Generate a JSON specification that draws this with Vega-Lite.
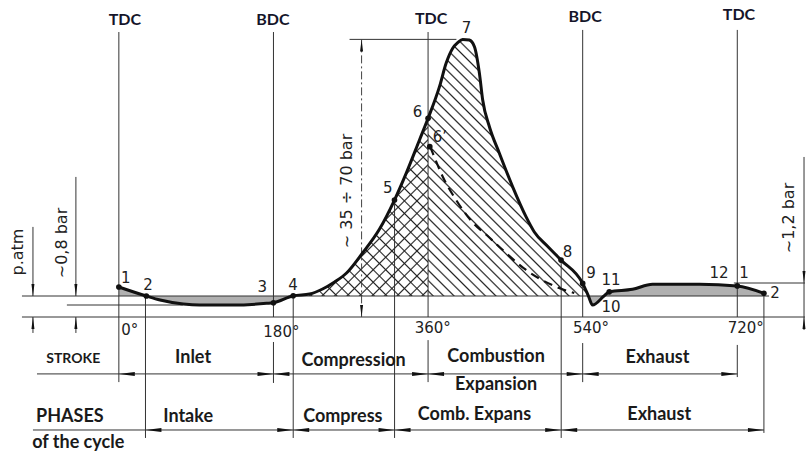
{
"$schema": "https://vega.github.io/schema/vega-lite/v6.json",
"width": 806, "height": 455,
"autosize": {"type": "fit", "contains": "padding"},
"padding": 0,
"background": "white",
"config": {"view": {"stroke": null}},
"datasets": {
"curve": [
{"deg":0,"p":1.43},{"deg":32,"p":1.0},{"deg":48,"p":0.81},{"deg":75,"p":0.62},{"deg":94,"p":0.57},{"deg":133,"p":0.57},{"deg":172,"p":0.65},{"deg":180,"p":0.68},{"deg":203,"p":1.01},{"deg":222.1,"p":1.095},{"deg":237.2,"p":1.333},{"deg":251.2,"p":1.667},{"deg":265.1,"p":2.095},{"deg":283.7,"p":3.048},{"deg":303.5,"p":4.19},{"deg":320.9,"p":5.57},{"deg":334.5,"p":6.84},{"deg":350,"p":8.43},{"deg":360,"p":9.46},{"deg":373.3,"p":10.97},{"deg":381,"p":12.08},{"deg":388.7,"p":12.8},{"deg":394.5,"p":13.06},{"deg":400.3,"p":13.22},{"deg":408.1,"p":13.19},{"deg":414,"p":12.87},{"deg":419.8,"p":11.6},{"deg":423.6,"p":10.33},{"deg":431.4,"p":9.06},{"deg":443,"p":7.8},{"deg":458.5,"p":6.2},{"deg":474,"p":4.78},{"deg":483.7,"p":4.05},{"deg":498.8,"p":3.38},{"deg":514.8,"p":2.71},{"deg":540,"p":1.6},{"deg":546.7,"p":1.0},{"deg":551.5,"p":0.57},{"deg":564.8,"p":1.0},{"deg":571,"p":1.2},{"deg":598,"p":1.32},{"deg":621.3,"p":1.56},{"deg":676,"p":1.56},{"deg":720,"p":1.48},{"deg":751,"p":1.13}
],
"dashed": [
{"deg":362.4,"p":8.11},{"deg":365.5,"p":7.8},{"deg":377.1,"p":6.68},{"deg":392.7,"p":5.57},{"deg":412,"p":4.5},{"deg":431,"p":3.8},{"deg":447,"p":3.19},{"deg":474.1,"p":2.24},{"deg":508.9,"p":1.44},{"deg":530.2,"p":1.14}
],
"segs": [
{"g":"g","deg":0,"p":13.57,"deg2":0,"p2":-3.1},
{"g":"g","deg":180,"p":13.57,"deg2":180,"p2":0},
{"g":"g","deg":180,"p":-1.19,"deg2":180,"p2":-3.14},
{"g":"g","deg":360,"p":13.57,"deg2":360,"p2":0},
{"g":"g","deg":360,"p":-1.1,"deg2":360,"p2":-3.1},
{"g":"g","deg":540,"p":13.67,"deg2":540,"p2":0},
{"g":"g","deg":540,"p":-1.24,"deg2":540,"p2":-3.1},
{"g":"g","deg":720,"p":13.67,"deg2":720,"p2":0},
{"g":"g","deg":720,"p":-1.33,"deg2":720,"p2":-2.86},
{"g":"g","deg":31,"p":1.0,"deg2":31,"p2":-5.76},
{"g":"g","deg":203,"p":1.01,"deg2":203,"p2":-5.76},
{"g":"g","deg":321,"p":5.57,"deg2":321,"p2":-5.76},
{"g":"g","deg":515,"p":2.71,"deg2":515,"p2":-5.76},
{"g":"g","deg":751,"p":1.13,"deg2":751,"p2":-5.52},
{"g":"g","deg":-112.8,"p":1,"deg2":757,"p2":1},
{"g":"g","deg":-112.8,"p":0,"deg2":798.8,"p2":0},
{"g":"g","deg":-60.5,"p":0.571,"deg2":74.4,"p2":0.571},
{"g":"g","deg":716,"p":1.619,"deg2":798.8,"p2":1.619},
{"g":"g","deg":-95.3,"p":-2.71,"deg2":720,"p2":-2.71},
{"g":"g","deg":-100,"p":-5.38,"deg2":751,"p2":-5.38},
{"g":"g","deg":268.6,"p":13.22,"deg2":393,"p2":13.22},
{"g":"g","deg":-100,"p":4.29,"deg2":-100,"p2":1},
{"g":"g","deg":-100,"p":0,"deg2":-100,"p2":-0.76},
{"g":"g","deg":-50,"p":6.67,"deg2":-50,"p2":1},
{"g":"g","deg":-50,"p":0,"deg2":-50,"p2":-0.76},
{"g":"g","deg":797.7,"p":7.62,"deg2":797.7,"p2":-0.62},
{"g":"d","deg":282.6,"p":13.22,"deg2":282.6,"p2":0}
],
"pts": [
{"deg":0,"p":1.43},{"deg":32,"p":1.0},{"deg":180,"p":0.68},{"deg":203,"p":1.01},{"deg":320.9,"p":5.57},{"deg":360,"p":9.46},{"deg":362,"p":8.11},{"deg":514.8,"p":2.71},{"deg":540,"p":1.6},{"deg":571,"p":1.2},{"deg":720,"p":1.48},{"deg":751,"p":1.13}
],
"arrows": [
{"g":"h","dir":"left","deg":9.3,"p":-2.71},{"g":"h","dir":"right","deg":170.7,"p":-2.71},{"g":"h","dir":"left","deg":189.3,"p":-2.71},{"g":"h","dir":"right","deg":350.7,"p":-2.71},{"g":"h","dir":"left","deg":369.3,"p":-2.71},{"g":"h","dir":"right","deg":530.7,"p":-2.71},{"g":"h","dir":"left","deg":549.3,"p":-2.71},{"g":"h","dir":"right","deg":710.7,"p":-2.71},
{"g":"h","dir":"left","deg":40.3,"p":-5.38},{"g":"h","dir":"right","deg":193.7,"p":-5.38},{"g":"h","dir":"left","deg":212.3,"p":-5.38},{"g":"h","dir":"right","deg":311.7,"p":-5.38},{"g":"h","dir":"left","deg":330.3,"p":-5.38},{"g":"h","dir":"right","deg":505.7,"p":-5.38},{"g":"h","dir":"left","deg":524.3,"p":-5.38},{"g":"h","dir":"right","deg":741.7,"p":-5.38},
{"g":"v","dir":"down","deg":-100,"p":1.286},{"g":"v","dir":"down","deg":-50,"p":1.286},{"g":"v","dir":"down","deg":282.6,"p":0.286},{"g":"v","dir":"down","deg":797.7,"p":1.905},
{"g":"v","dir":"up","deg":-100,"p":-0.286},{"g":"v","dir":"up","deg":-50,"p":-0.286},{"g":"v","dir":"up","deg":282.6,"p":12.934},{"g":"v","dir":"up","deg":797.7,"p":-0.286}
],
"nums": [
{"deg":8.1,"p":1.857,"label":"1"},{"deg":34.1,"p":1.524,"label":"2"},{"deg":167.1,"p":1.443,"label":"3"},{"deg":202.7,"p":1.524,"label":"4"},{"deg":313.1,"p":6.129,"label":"5"},{"deg":347.7,"p":9.762,"label":"6"},{"deg":373.8,"p":8.571,"label":"6’"},{"deg":404.7,"p":13.762,"label":"7"},{"deg":522.4,"p":3.11,"label":"8"},{"deg":549.7,"p":2.08,"label":"9"},{"deg":572.9,"p":1.762,"label":"11"},{"deg":572.9,"p":0.49,"label":"10"},{"deg":698.8,"p":2.08,"label":"12"},{"deg":727.9,"p":2.08,"label":"1"},{"deg":764,"p":1.13,"label":"2"},
{"deg":12.8,"p":-0.62,"label":"0°"},{"deg":189.2,"p":-0.7,"label":"180°"},{"deg":365.5,"p":-0.54,"label":"360°"},{"deg":549.7,"p":-0.54,"label":"540°"},{"deg":729.9,"p":-0.54,"label":"720°"}
],
"tops": [
{"deg":7,"p":14.14,"label":"TDC"},{"deg":179.4,"p":14.14,"label":"BDC"},{"deg":363.6,"p":14.2,"label":"TDC"},{"deg":542.8,"p":14.3,"label":"BDC"},{"deg":722,"p":14.38,"label":"TDC"}
],
"rot": [
{"deg":-117.4,"p":3.095,"label":"p.atm"},{"deg":-66.3,"p":3.524,"label":"~0,8  bar"},{"deg":265.1,"p":6.0,"label":"~ 35 ÷ 70  bar"},{"deg":780.2,"p":4.714,"label":"~1,2  bar"}
],
"words": [
{"deg":86.4,"p":-1.967,"label":"Inlet"},{"deg":273.3,"p":-2.095,"label":"Compression"},{"deg":439.2,"p":-1.89,"label":"Combustion"},{"deg":439.2,"p":-3.238,"label":"Expansion"},{"deg":627.1,"p":-1.967,"label":"Exhaust"},
{"deg":-57,"p":-4.748,"label":"PHASES"},{"deg":-47.3,"p":-6.014,"label":"of the cycle"},{"deg":80.6,"p":-4.748,"label":"Intake"},{"deg":260.8,"p":-4.748,"label":"Compress"},{"deg":414,"p":-4.667,"label":"Comb. Expans"},{"deg":629.1,"p":-4.667,"label":"Exhaust"}
],
"small": [
{"deg":-53.1,"p":-2.014,"label":"STROKE"}
]
},
"encoding": {
"x": {"field":"deg","type":"quantitative","scale":{"domain":[-138.37,798.84],"nice":false,"zero":false},"axis":null},
"y": {"field":"p","type":"quantitative","scale":{"domain":[-6.571,15.095],"nice":false,"zero":false},"axis":null}
},
"layer": [
{"data":{"name":"curve"},"transform":[{"filter":"datum.deg <= 203"}],
 "mark":{"type":"area","interpolate":"monotone","fill":"#b0b0b0","opacity":1},
 "encoding":{"y2":{"datum":1}}},
{"data":{"name":"curve"},"transform":[{"filter":"datum.deg >= 203 && datum.deg <= 360"}],
 "mark":{"type":"area","interpolate":"monotone","opacity":1,"fill":{"gradient":"linear","x1":0,"y1":1,"x2":0.848,"y2":-0.116,"stops":[
{"offset":0.015,"color":"#22222200"},{"offset":0.02,"color":"#222"},{"offset":0.025,"color":"#22222200"},
{"offset":0.055,"color":"#22222200"},{"offset":0.06,"color":"#222"},{"offset":0.065,"color":"#22222200"},
{"offset":0.095,"color":"#22222200"},{"offset":0.10,"color":"#222"},{"offset":0.105,"color":"#22222200"},
{"offset":0.135,"color":"#22222200"},{"offset":0.14,"color":"#222"},{"offset":0.145,"color":"#22222200"},
{"offset":0.175,"color":"#22222200"},{"offset":0.18,"color":"#222"},{"offset":0.185,"color":"#22222200"},
{"offset":0.215,"color":"#22222200"},{"offset":0.22,"color":"#222"},{"offset":0.225,"color":"#22222200"},
{"offset":0.255,"color":"#22222200"},{"offset":0.26,"color":"#222"},{"offset":0.265,"color":"#22222200"},
{"offset":0.295,"color":"#22222200"},{"offset":0.30,"color":"#222"},{"offset":0.305,"color":"#22222200"},
{"offset":0.335,"color":"#22222200"},{"offset":0.34,"color":"#222"},{"offset":0.345,"color":"#22222200"},
{"offset":0.375,"color":"#22222200"},{"offset":0.38,"color":"#222"},{"offset":0.385,"color":"#22222200"},
{"offset":0.415,"color":"#22222200"},{"offset":0.42,"color":"#222"},{"offset":0.425,"color":"#22222200"},
{"offset":0.455,"color":"#22222200"},{"offset":0.46,"color":"#222"},{"offset":0.465,"color":"#22222200"},
{"offset":0.495,"color":"#22222200"},{"offset":0.50,"color":"#222"},{"offset":0.505,"color":"#22222200"},
{"offset":0.535,"color":"#22222200"},{"offset":0.54,"color":"#222"},{"offset":0.545,"color":"#22222200"},
{"offset":0.575,"color":"#22222200"},{"offset":0.58,"color":"#222"},{"offset":0.585,"color":"#22222200"},
{"offset":0.615,"color":"#22222200"},{"offset":0.62,"color":"#222"},{"offset":0.625,"color":"#22222200"},
{"offset":0.655,"color":"#22222200"},{"offset":0.66,"color":"#222"},{"offset":0.665,"color":"#22222200"},
{"offset":0.695,"color":"#22222200"},{"offset":0.70,"color":"#222"},{"offset":0.705,"color":"#22222200"},
{"offset":0.735,"color":"#22222200"},{"offset":0.74,"color":"#222"},{"offset":0.745,"color":"#22222200"},
{"offset":0.775,"color":"#22222200"},{"offset":0.78,"color":"#222"},{"offset":0.785,"color":"#22222200"},
{"offset":0.815,"color":"#22222200"},{"offset":0.82,"color":"#222"},{"offset":0.825,"color":"#22222200"},
{"offset":0.855,"color":"#22222200"},{"offset":0.86,"color":"#222"},{"offset":0.865,"color":"#22222200"},
{"offset":0.895,"color":"#22222200"},{"offset":0.90,"color":"#222"},{"offset":0.905,"color":"#22222200"},
{"offset":0.935,"color":"#22222200"},{"offset":0.94,"color":"#222"},{"offset":0.945,"color":"#22222200"},
{"offset":0.975,"color":"#22222200"},{"offset":0.98,"color":"#222"},{"offset":0.985,"color":"#22222200"}
 ]}},
 "encoding":{"y2":{"datum":1}}},
{"data":{"name":"curve"},"transform":[{"filter":"datum.deg >= 203 && datum.deg <= 360"}],
 "mark":{"type":"area","interpolate":"monotone","opacity":1,"fill":{"gradient":"linear","x1":0,"y1":0,"x2":0.848,"y2":1.116,"stops":[
{"offset":0.015,"color":"#22222200"},{"offset":0.02,"color":"#222"},{"offset":0.025,"color":"#22222200"},
{"offset":0.055,"color":"#22222200"},{"offset":0.06,"color":"#222"},{"offset":0.065,"color":"#22222200"},
{"offset":0.095,"color":"#22222200"},{"offset":0.10,"color":"#222"},{"offset":0.105,"color":"#22222200"},
{"offset":0.135,"color":"#22222200"},{"offset":0.14,"color":"#222"},{"offset":0.145,"color":"#22222200"},
{"offset":0.175,"color":"#22222200"},{"offset":0.18,"color":"#222"},{"offset":0.185,"color":"#22222200"},
{"offset":0.215,"color":"#22222200"},{"offset":0.22,"color":"#222"},{"offset":0.225,"color":"#22222200"},
{"offset":0.255,"color":"#22222200"},{"offset":0.26,"color":"#222"},{"offset":0.265,"color":"#22222200"},
{"offset":0.295,"color":"#22222200"},{"offset":0.30,"color":"#222"},{"offset":0.305,"color":"#22222200"},
{"offset":0.335,"color":"#22222200"},{"offset":0.34,"color":"#222"},{"offset":0.345,"color":"#22222200"},
{"offset":0.375,"color":"#22222200"},{"offset":0.38,"color":"#222"},{"offset":0.385,"color":"#22222200"},
{"offset":0.415,"color":"#22222200"},{"offset":0.42,"color":"#222"},{"offset":0.425,"color":"#22222200"},
{"offset":0.455,"color":"#22222200"},{"offset":0.46,"color":"#222"},{"offset":0.465,"color":"#22222200"},
{"offset":0.495,"color":"#22222200"},{"offset":0.50,"color":"#222"},{"offset":0.505,"color":"#22222200"},
{"offset":0.535,"color":"#22222200"},{"offset":0.54,"color":"#222"},{"offset":0.545,"color":"#22222200"},
{"offset":0.575,"color":"#22222200"},{"offset":0.58,"color":"#222"},{"offset":0.585,"color":"#22222200"},
{"offset":0.615,"color":"#22222200"},{"offset":0.62,"color":"#222"},{"offset":0.625,"color":"#22222200"},
{"offset":0.655,"color":"#22222200"},{"offset":0.66,"color":"#222"},{"offset":0.665,"color":"#22222200"},
{"offset":0.695,"color":"#22222200"},{"offset":0.70,"color":"#222"},{"offset":0.705,"color":"#22222200"},
{"offset":0.735,"color":"#22222200"},{"offset":0.74,"color":"#222"},{"offset":0.745,"color":"#22222200"},
{"offset":0.775,"color":"#22222200"},{"offset":0.78,"color":"#222"},{"offset":0.785,"color":"#22222200"},
{"offset":0.815,"color":"#22222200"},{"offset":0.82,"color":"#222"},{"offset":0.825,"color":"#22222200"},
{"offset":0.855,"color":"#22222200"},{"offset":0.86,"color":"#222"},{"offset":0.865,"color":"#22222200"},
{"offset":0.895,"color":"#22222200"},{"offset":0.90,"color":"#222"},{"offset":0.905,"color":"#22222200"},
{"offset":0.935,"color":"#22222200"},{"offset":0.94,"color":"#222"},{"offset":0.945,"color":"#22222200"},
{"offset":0.975,"color":"#22222200"},{"offset":0.98,"color":"#222"},{"offset":0.985,"color":"#22222200"}
 ]}},
 "encoding":{"y2":{"datum":1}}},
{"data":{"name":"curve"},"transform":[{"filter":"datum.deg >= 360 && datum.deg <= 546.7"}],
 "mark":{"type":"area","interpolate":"monotone","opacity":1,"fill":{"gradient":"linear","x1":0,"y1":1,"x2":0.728,"y2":-0.169,"stops":[
{"offset":0.0085,"color":"#22222200"},{"offset":0.0125,"color":"#222"},{"offset":0.0165,"color":"#22222200"},
{"offset":0.0335,"color":"#22222200"},{"offset":0.0375,"color":"#222"},{"offset":0.0415,"color":"#22222200"},
{"offset":0.0585,"color":"#22222200"},{"offset":0.0625,"color":"#222"},{"offset":0.0665,"color":"#22222200"},
{"offset":0.0835,"color":"#22222200"},{"offset":0.0875,"color":"#222"},{"offset":0.0915,"color":"#22222200"},
{"offset":0.1085,"color":"#22222200"},{"offset":0.1125,"color":"#222"},{"offset":0.1165,"color":"#22222200"},
{"offset":0.1335,"color":"#22222200"},{"offset":0.1375,"color":"#222"},{"offset":0.1415,"color":"#22222200"},
{"offset":0.1585,"color":"#22222200"},{"offset":0.1625,"color":"#222"},{"offset":0.1665,"color":"#22222200"},
{"offset":0.1835,"color":"#22222200"},{"offset":0.1875,"color":"#222"},{"offset":0.1915,"color":"#22222200"},
{"offset":0.2085,"color":"#22222200"},{"offset":0.2125,"color":"#222"},{"offset":0.2165,"color":"#22222200"},
{"offset":0.2335,"color":"#22222200"},{"offset":0.2375,"color":"#222"},{"offset":0.2415,"color":"#22222200"},
{"offset":0.2585,"color":"#22222200"},{"offset":0.2625,"color":"#222"},{"offset":0.2665,"color":"#22222200"},
{"offset":0.2835,"color":"#22222200"},{"offset":0.2875,"color":"#222"},{"offset":0.2915,"color":"#22222200"},
{"offset":0.3085,"color":"#22222200"},{"offset":0.3125,"color":"#222"},{"offset":0.3165,"color":"#22222200"},
{"offset":0.3335,"color":"#22222200"},{"offset":0.3375,"color":"#222"},{"offset":0.3415,"color":"#22222200"},
{"offset":0.3585,"color":"#22222200"},{"offset":0.3625,"color":"#222"},{"offset":0.3665,"color":"#22222200"},
{"offset":0.3835,"color":"#22222200"},{"offset":0.3875,"color":"#222"},{"offset":0.3915,"color":"#22222200"},
{"offset":0.4085,"color":"#22222200"},{"offset":0.4125,"color":"#222"},{"offset":0.4165,"color":"#22222200"},
{"offset":0.4335,"color":"#22222200"},{"offset":0.4375,"color":"#222"},{"offset":0.4415,"color":"#22222200"},
{"offset":0.4585,"color":"#22222200"},{"offset":0.4625,"color":"#222"},{"offset":0.4665,"color":"#22222200"},
{"offset":0.4835,"color":"#22222200"},{"offset":0.4875,"color":"#222"},{"offset":0.4915,"color":"#22222200"},
{"offset":0.5085,"color":"#22222200"},{"offset":0.5125,"color":"#222"},{"offset":0.5165,"color":"#22222200"},
{"offset":0.5335,"color":"#22222200"},{"offset":0.5375,"color":"#222"},{"offset":0.5415,"color":"#22222200"},
{"offset":0.5585,"color":"#22222200"},{"offset":0.5625,"color":"#222"},{"offset":0.5665,"color":"#22222200"},
{"offset":0.5835,"color":"#22222200"},{"offset":0.5875,"color":"#222"},{"offset":0.5915,"color":"#22222200"},
{"offset":0.6085,"color":"#22222200"},{"offset":0.6125,"color":"#222"},{"offset":0.6165,"color":"#22222200"},
{"offset":0.6335,"color":"#22222200"},{"offset":0.6375,"color":"#222"},{"offset":0.6415,"color":"#22222200"},
{"offset":0.6585,"color":"#22222200"},{"offset":0.6625,"color":"#222"},{"offset":0.6665,"color":"#22222200"},
{"offset":0.6835,"color":"#22222200"},{"offset":0.6875,"color":"#222"},{"offset":0.6915,"color":"#22222200"},
{"offset":0.7085,"color":"#22222200"},{"offset":0.7125,"color":"#222"},{"offset":0.7165,"color":"#22222200"},
{"offset":0.7335,"color":"#22222200"},{"offset":0.7375,"color":"#222"},{"offset":0.7415,"color":"#22222200"},
{"offset":0.7585,"color":"#22222200"},{"offset":0.7625,"color":"#222"},{"offset":0.7665,"color":"#22222200"},
{"offset":0.7835,"color":"#22222200"},{"offset":0.7875,"color":"#222"},{"offset":0.7915,"color":"#22222200"},
{"offset":0.8085,"color":"#22222200"},{"offset":0.8125,"color":"#222"},{"offset":0.8165,"color":"#22222200"},
{"offset":0.8335,"color":"#22222200"},{"offset":0.8375,"color":"#222"},{"offset":0.8415,"color":"#22222200"},
{"offset":0.8585,"color":"#22222200"},{"offset":0.8625,"color":"#222"},{"offset":0.8665,"color":"#22222200"},
{"offset":0.8835,"color":"#22222200"},{"offset":0.8875,"color":"#222"},{"offset":0.8915,"color":"#22222200"},
{"offset":0.9085,"color":"#22222200"},{"offset":0.9125,"color":"#222"},{"offset":0.9165,"color":"#22222200"},
{"offset":0.9335,"color":"#22222200"},{"offset":0.9375,"color":"#222"},{"offset":0.9415,"color":"#22222200"},
{"offset":0.9585,"color":"#22222200"},{"offset":0.9625,"color":"#222"},{"offset":0.9665,"color":"#22222200"},
{"offset":0.9835,"color":"#22222200"},{"offset":0.9875,"color":"#222"},{"offset":0.9915,"color":"#22222200"}
 ]}},
 "encoding":{"y2":{"datum":1}}},
{"data":{"name":"curve"},"transform":[{"filter":"datum.deg >= 546.7 && datum.deg <= 564.8"}],
 "mark":{"type":"area","interpolate":"monotone","fill":"#b0b0b0","opacity":1},
 "encoding":{"y2":{"datum":1}}},
{"data":{"name":"curve"},"transform":[{"filter":"datum.deg >= 564.8"}],
 "mark":{"type":"area","interpolate":"monotone","fill":"#b0b0b0","opacity":1},
 "encoding":{"y2":{"datum":1}}},
{"data":{"name":"segs"},"transform":[{"filter":"datum.g == 'g'"}],
 "mark":{"type":"rule","color":"#333","strokeWidth":1},
 "encoding":{"x2":{"field":"deg2"},"y2":{"field":"p2"}}},
{"data":{"name":"segs"},"transform":[{"filter":"datum.g == 'd'"}],
 "mark":{"type":"rule","color":"#444","strokeWidth":1,"strokeDash":[8,3,2,3]},
 "encoding":{"x2":{"field":"deg2"},"y2":{"field":"p2"}}},
{"data":{"name":"curve"},
 "mark":{"type":"line","interpolate":"monotone","color":"#111","strokeWidth":3},
 "encoding":{}},
{"data":{"name":"dashed"},
 "mark":{"type":"line","interpolate":"monotone","color":"#111","strokeWidth":2.2,"strokeDash":[9,6]},
 "encoding":{}},
{"data":{"name":"pts"},
 "mark":{"type":"point","filled":true,"color":"#111","size":32,"opacity":1},
 "encoding":{}},
{"data":{"name":"arrows"},"transform":[{"filter":"datum.g == 'h'"}],
 "mark":{"type":"point","filled":true,"color":"#111","size":256,"opacity":1},
 "encoding":{"shape":{"field":"dir","type":"nominal","legend":null,"scale":{"domain":["left","right","up","down"],"range":["M1,-0.25L-1,0L1,0.25Z","M-1,-0.25L1,0L-1,0.25Z","M-0.25,1L0,-1L0.25,1Z","M-0.25,-1L0,1L0.25,-1Z"]}}}},
{"data":{"name":"arrows"},"transform":[{"filter":"datum.g == 'v'"}],
 "mark":{"type":"point","filled":true,"color":"#111","size":144,"opacity":1},
 "encoding":{"shape":{"field":"dir","type":"nominal","legend":null,"scale":{"domain":["left","right","up","down"],"range":["M1,-0.25L-1,0L1,0.25Z","M-1,-0.25L1,0L-1,0.25Z","M-0.25,1L0,-1L0.25,1Z","M-0.25,-1L0,1L0.25,-1Z"]}}}},
{"data":{"name":"nums"},
 "mark":{"type":"text","font":"DejaVu Sans","fontSize":15,"color":"#222","align":"center","baseline":"middle"},
 "encoding":{"text":{"field":"label"}}},
{"data":{"name":"tops"},
 "mark":{"type":"text","font":"Lato","fontWeight":"bold","fontSize":16,"color":"#15152a","align":"center","baseline":"middle"},
 "encoding":{"text":{"field":"label"}}},
{"data":{"name":"rot"},
 "mark":{"type":"text","font":"DejaVu Sans","fontSize":16,"color":"#222","align":"center","baseline":"middle","angle":270},
 "encoding":{"text":{"field":"label"}}},
{"data":{"name":"words"},
 "mark":{"type":"text","font":"Lato","fontWeight":"bold","fontSize":18,"color":"#1a1a1a","align":"center","baseline":"middle"},
 "encoding":{"text":{"field":"label"}}},
{"data":{"name":"small"},
 "mark":{"type":"text","font":"Lato","fontWeight":"bold","fontSize":14,"color":"#1a1a1a","align":"center","baseline":"middle"},
 "encoding":{"text":{"field":"label"}}}
]
}
